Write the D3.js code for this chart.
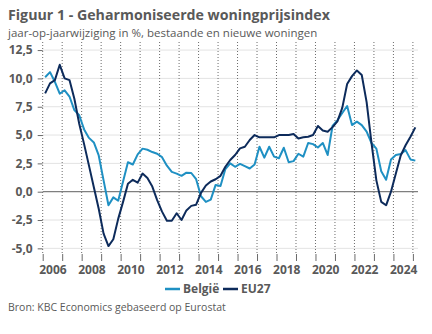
<!DOCTYPE html>
<html>
<head>
<meta charset="utf-8">
<script src="https://cdn.jsdelivr.net/npm/d3@7"></script>
<style>
  html, body { margin: 0; padding: 0; background: #ffffff; }
  svg { display: block; font-family: "Open Sans", "Noto Sans", sans-serif; }
</style>
</head>
<body>
<svg id="chart" width="432" height="334"></svg>
<script>
// ---- data ----
const periods = [
  "2006Q1","2006Q2","2006Q3","2006Q4","2007Q1","2007Q2","2007Q3","2007Q4",
  "2008Q1","2008Q2","2008Q3","2008Q4","2009Q1","2009Q2","2009Q3","2009Q4",
  "2010Q1","2010Q2","2010Q3","2010Q4","2011Q1","2011Q2","2011Q3","2011Q4",
  "2012Q1","2012Q2","2012Q3","2012Q4","2013Q1","2013Q2","2013Q3","2013Q4",
  "2014Q1","2014Q2","2014Q3","2014Q4","2015Q1","2015Q2","2015Q3","2015Q4",
  "2016Q1","2016Q2","2016Q3","2016Q4","2017Q1","2017Q2","2017Q3","2017Q4",
  "2018Q1","2018Q2","2018Q3","2018Q4","2019Q1","2019Q2","2019Q3","2019Q4",
  "2020Q1","2020Q2","2020Q3","2020Q4","2021Q1","2021Q2","2021Q3","2021Q4",
  "2022Q1","2022Q2","2022Q3","2022Q4","2023Q1","2023Q2","2023Q3","2023Q4",
  "2024Q1","2024Q2","2024Q3","2024Q4","2025Q1"
];
const belgie = [
  10.1, 10.55, 9.7, 8.65, 8.95, 8.4, 7.2, 6.75, 5.5, 4.75, 4.35, 3.2, 1.0, -1.2, -0.5, -0.8, 0.9, 2.6, 2.4, 3.3,
  3.8, 3.7, 3.5, 3.35, 3.05, 2.3, 1.75, 1.6, 1.4, 1.68, 1.65, 1.1, -0.4, -0.9, -0.7, 0.6, 0.5, 2.0, 2.5, 2.2,
  2.45, 2.25, 2.05, 2.4, 3.97, 3.0, 3.97, 3.1, 2.95, 3.88, 2.6, 2.7, 3.35, 3.1, 4.3, 4.2, 3.9, 4.3, 3.24, 5.8,
  6.3, 6.95, 7.56, 5.88, 6.18, 5.88, 5.3, 4.3, 3.8, 1.8, 1.05, 2.85, 3.24, 3.32, 3.67, 2.85, 2.74
];
const eu27 = [
  8.68, 9.56, 9.85, 11.2, 10.0, 9.85, 8.2, 6.0, 4.2, 2.3, 0.4, -1.5, -3.7, -4.8, -4.2, -2.4, -0.9, 0.7, 1.05, 0.8,
  1.6, 1.2, 0.45, -0.74, -1.76, -2.56, -2.56, -1.9, -2.5, -1.65, -1.25, -1.15, -0.1, 0.55, 0.9, 1.1, 1.4, 2.2, 2.8, 3.24,
  3.82, 3.97, 4.56, 5.0, 4.8, 4.8, 4.8, 4.8, 5.0, 5.0, 5.0, 5.1, 4.7, 4.8, 4.85, 5.0, 5.8, 5.4, 5.3, 5.7,
  6.2, 7.4, 9.5, 10.2, 10.7, 10.3, 7.9, 4.3, 1.0, -0.9, -1.2, 0.0, 1.6, 3.2, 4.1, 4.85, 5.68
];
const yearLabels = ["2006","2008","2010","2012","2014","2016","2018","2020","2022","2024"];
const gridYears = [2006,2007,2008,2009,2010,2011,2012,2013,2014,2015,2016,2017,2018,2019,2020,2021,2022,2023,2024,2025];
const yTicks = [-5, -2.5, 0, 2.5, 5, 7.5, 10, 12.5];
const seriesNames = ["België", "EU27"];
const seriesColors = ["#1f90c3", "#0d2b5b"];

// ---- layout ----
const svg = d3.select("#chart");
const textCol = "#595959";
const left = 42.7, right = 412.9;
const x = d3.scaleLinear().domain([2006, 2025]).range([left, right]);
const y = d3.scaleLinear().domain([0, 10]).range([191.7, 78.4]);
const plotRight = 418;
const plotTop = 42, plotBottom = 254;

const tOf = p => +p.slice(0, 4) + (+p.slice(5) - 0.5) / 4;

// title
svg.append("text").attr("x", 8).attr("y", 20)
  .attr("font-size", 14.2).attr("font-weight", 700).attr("fill", textCol)
  .text("Figuur 1 - Geharmoniseerde woningprijsindex");
svg.append("text").attr("x", 8).attr("y", 37)
  .attr("font-size", 11.5).attr("fill", textCol)
  .text("jaar-op-jaarwijziging in %, bestaande en nieuwe woningen");

// horizontal gridlines
svg.append("g").selectAll("line").data(yTicks.filter(d => d !== 0)).join("line")
  .attr("x1", left).attr("x2", plotRight)
  .attr("y1", d => y(d)).attr("y2", d => y(d))
  .attr("stroke", "#e3e3e3").attr("stroke-width", 1);

// vertical dotted gridlines
svg.append("g").selectAll("line").data(gridYears).join("line")
  .attr("x1", d => x(d)).attr("x2", d => x(d))
  .attr("y1", plotTop).attr("y2", plotBottom)
  .attr("stroke", "#6b6b6b").attr("stroke-width", 1).attr("stroke-dasharray", "1,2");

// zero line
svg.append("line").attr("x1", left).attr("x2", plotRight)
  .attr("y1", y(0)).attr("y2", y(0))
  .attr("stroke", "#7f7f7f").attr("stroke-width", 1.3);

// y axis
const yAxis = svg.append("g").attr("transform", `translate(${left},0)`)
  .call(d3.axisLeft(y).tickValues(yTicks).tickSize(5).tickPadding(5)
    .tickFormat(d => d3.format(".1f")(d).replace(".", ",").replace("\u2212", "-")));
yAxis.select(".domain").remove();
yAxis.selectAll(".tick line").attr("stroke", "#6b6b6b");
yAxis.selectAll("text").attr("font-size", 12).attr("font-weight", 700)
  .attr("fill", textCol).attr("font-family", "'Open Sans', sans-serif");

// x axis ticks
const xAxis = svg.append("g").attr("transform", `translate(0,${plotBottom})`)
  .call(d3.axisBottom(x).tickValues(gridYears).tickSize(7).tickFormat(""));
xAxis.select(".domain").remove();
xAxis.selectAll(".tick line").attr("stroke", "#6b6b6b");

// x labels centred in year bands
const xLab = svg.append("g").attr("transform", `translate(0,${plotBottom + 6})`)
  .call(d3.axisBottom(x).tickValues(yearLabels.map(d => +d + 0.5)).tickSize(0).tickPadding(5)
    .tickFormat(d => String(Math.floor(d))));
xLab.select(".domain").remove();
xLab.selectAll("text").attr("font-size", 12).attr("font-weight", 700)
  .attr("fill", textCol).attr("font-family", "'Open Sans', sans-serif");

// lines
const line = d3.line().x((d, i) => x(tOf(periods[i]))).y(d => y(d));
[belgie, eu27].forEach((s, k) => {
  svg.append("path").datum(s).attr("d", line)
    .attr("fill", "none").attr("stroke", seriesColors[k]).attr("stroke-width", 2)
    .attr("stroke-linejoin", "round");
});

// legend
const lg = svg.append("g").attr("transform", "translate(0,289)");
const legendX = [165, 223];
seriesNames.forEach((n, k) => {
  lg.append("line").attr("x1", legendX[k]).attr("x2", legendX[k] + 15)
    .attr("y1", 0).attr("y2", 0).attr("stroke", seriesColors[k]).attr("stroke-width", 2.5);
  lg.append("text").attr("x", legendX[k] + 18).attr("y", 4.3)
    .attr("font-size", 12).attr("font-weight", 700).attr("fill", textCol).text(n);
});

// source
svg.append("text").attr("x", 8).attr("y", 311)
  .attr("font-size", 10.5).attr("fill", textCol)
  .text("Bron: KBC Economics gebaseerd op Eurostat");
</script>
</body>
</html>
